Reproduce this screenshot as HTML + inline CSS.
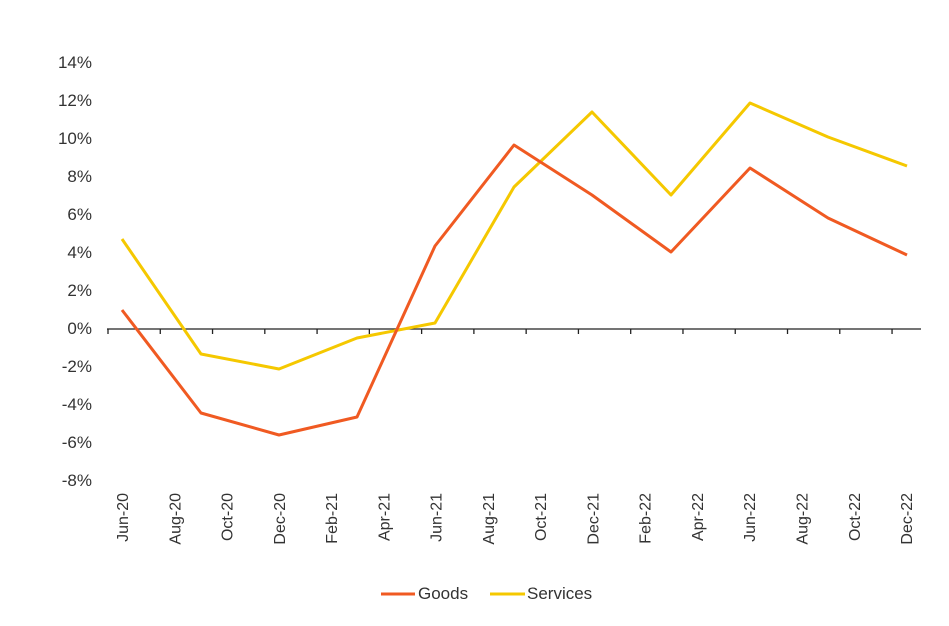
<!DOCTYPE html>
<html><head><meta charset="utf-8"><style>
html,body{margin:0;padding:0;background:#fff;}
svg{display:block;font-family:"Liberation Sans",sans-serif;}
</style></head><body>
<svg width="949" height="626" viewBox="0 0 949 626" xmlns="http://www.w3.org/2000/svg">
<rect width="949" height="626" fill="#fff"/>
<g font-size="17" fill="#333" text-anchor="end">
<text x="92" y="68">14%</text>
<text x="92" y="106">12%</text>
<text x="92" y="144">10%</text>
<text x="92" y="182">8%</text>
<text x="92" y="220">6%</text>
<text x="92" y="258">4%</text>
<text x="92" y="296">2%</text>
<text x="92" y="334">0%</text>
<text x="92" y="372">-2%</text>
<text x="92" y="410">-4%</text>
<text x="92" y="448">-6%</text>
<text x="92" y="486">-8%</text>
</g>
<line x1="107" y1="329" x2="921" y2="329" stroke="#222" stroke-width="1.3"/>
<g stroke="#222" stroke-width="1.3" id="ticks"></g>
<polyline fill="none" stroke="#f5c800" stroke-width="3" stroke-linejoin="round" points="122,239 201,354 279,369 357,338 435,323 514,187 592,112 671,195 750,103 828,137 907,166"/>
<polyline fill="none" stroke="#f05a22" stroke-width="3" stroke-linejoin="round" points="122,310 201,413 279,435 357,417 435,246 514,145 592,195 671,252 750,168 828,218 907,255"/>
<g font-size="16" fill="#333" id="xl"></g>
<line x1="381" y1="594" x2="415" y2="594" stroke="#f05a22" stroke-width="3"/>
<text x="418" y="599" font-size="17" fill="#333">Goods</text>
<line x1="490" y1="594" x2="525" y2="594" stroke="#f5c800" stroke-width="3"/>
<text x="527" y="599" font-size="17" fill="#333">Services</text>
<script>
var t=document.getElementById('ticks'),xl=document.getElementById('xl');
var ns='http://www.w3.org/2000/svg';
for(var i=0;i<16;i++){var x=108+i*52.27;var l=document.createElementNS(ns,'line');
l.setAttribute('x1',x);l.setAttribute('x2',x);l.setAttribute('y1',329);l.setAttribute('y2',334);t.appendChild(l);}
var labs=['Jun-20','Aug-20','Oct-20','Dec-20','Feb-21','Apr-21','Jun-21','Aug-21','Oct-21','Dec-21','Feb-22','Apr-22','Jun-22','Aug-22','Oct-22','Dec-22'];
for(var i=0;i<16;i++){var x=128+i*52.27;var tx=document.createElementNS(ns,'text');
tx.setAttribute('transform','translate('+x+',493) rotate(-90)');tx.setAttribute('text-anchor','end');
tx.textContent=labs[i];xl.appendChild(tx);}
</script>
</svg>
</body></html>
